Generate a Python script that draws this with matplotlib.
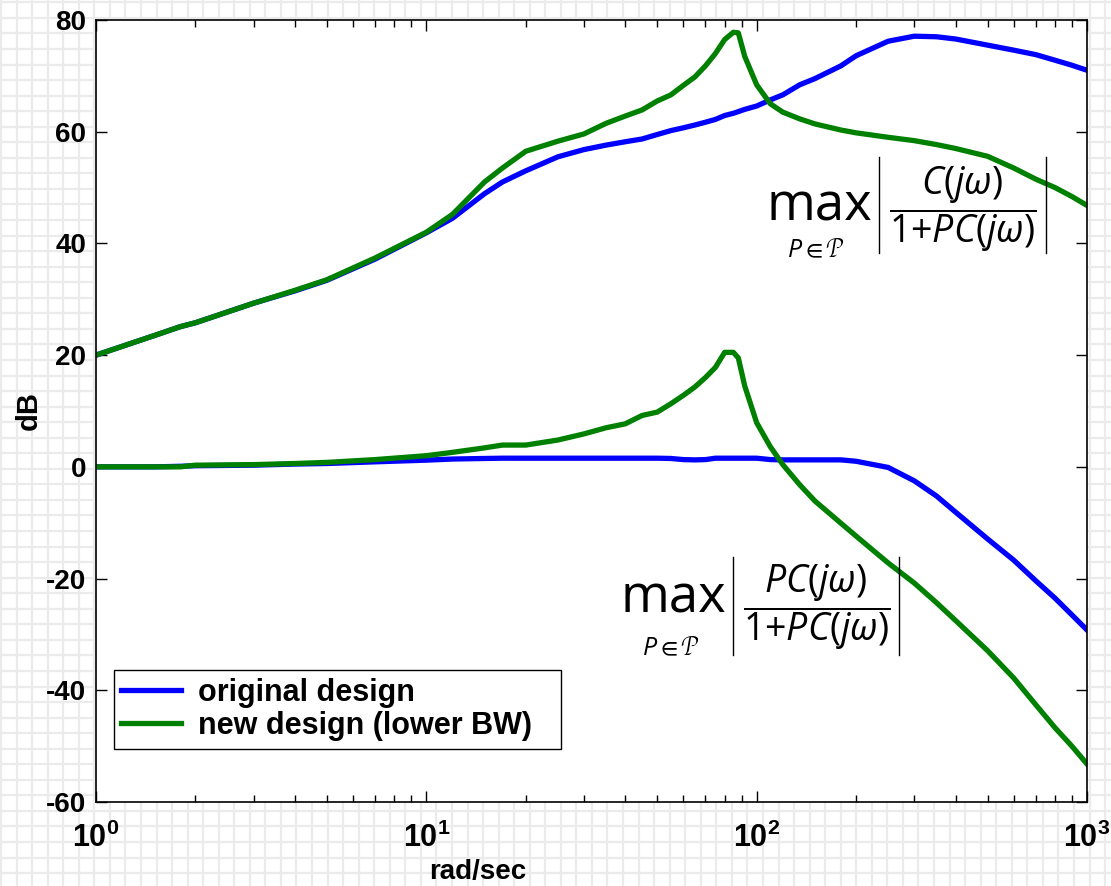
import numpy as np
import matplotlib
matplotlib.use("Agg")
import matplotlib.pyplot as plt
from matplotlib.ticker import LogLocator, FixedLocator, NullFormatter

plt.rcParams['font.family'] = ['Liberation Sans', 'DejaVu Sans']
plt.rcParams['axes.unicode_minus'] = False
plt.rcParams['mathtext.fontset'] = 'custom'
plt.rcParams['mathtext.rm'] = 'Open Sans'
plt.rcParams['mathtext.it'] = 'Open Sans:italic'
plt.rcParams['mathtext.bf'] = 'Liberation Sans:bold'
plt.rcParams['mathtext.fallback'] = 'stixsans'

# frequency grid (rad/sec) shared by all four curves
freq = [1, 1.5, 1.8, 2, 3, 4, 5, 7, 10, 12, 15, 17, 20, 25, 30, 35, 40, 45, 50,
        55, 60, 65, 70, 75, 80, 85, 88, 92, 100, 110, 120, 135, 150, 180, 200,
        250, 300, 350, 400, 500, 600, 700, 800, 900, 1000]

# max |C/(1+PC)| in dB
cs_orig = [20.0, 23.5, 25.1, 25.8, 29.3, 31.5, 33.4, 37.2, 41.9, 44.5, 48.9,
           51.0, 53.0, 55.5, 56.8, 57.6, 58.2, 58.7, 59.5, 60.2, 60.7, 61.2,
           61.7, 62.2, 62.9, 63.3, 63.6, 64.0, 64.6, 65.7, 66.6, 68.4, 69.5,
           71.8, 73.6, 76.2, 77.1, 77.0, 76.6, 75.5, 74.6, 73.8, 72.8, 71.9, 71.0]
cs_new = [20.0, 23.5, 25.1, 25.8, 29.3, 31.6, 33.5, 37.4, 42.0, 45.2, 51.0,
          53.5, 56.5, 58.3, 59.6, 61.5, 62.8, 63.9, 65.5, 66.6, 68.3, 69.8,
          71.8, 74.0, 76.5, 77.8, 77.7, 73.5, 68.4, 65.0, 63.5, 62.3, 61.4,
          60.3, 59.8, 59.0, 58.4, 57.7, 57.0, 55.6, 53.5, 51.5, 50.0, 48.4, 46.8]

# max |PC/(1+PC)| in dB
t_orig = [0.0, 0.0, 0.1, 0.2, 0.3, 0.5, 0.6, 0.9, 1.2, 1.4, 1.5, 1.55, 1.55,
          1.55, 1.55, 1.55, 1.55, 1.55, 1.55, 1.5, 1.3, 1.25, 1.3, 1.55, 1.55,
          1.55, 1.55, 1.55, 1.55, 1.3, 1.25, 1.25, 1.25, 1.25, 1.0, -0.1,
          -2.5, -5.2, -8.1, -12.9, -16.7, -20.4, -23.5, -26.5, -29.2]
t_new = [0.0, 0.0, 0.0, 0.3, 0.4, 0.6, 0.8, 1.3, 2.0, 2.6, 3.4, 3.9, 3.9,
         4.8, 5.9, 7.0, 7.7, 9.2, 9.8, 11.3, 12.8, 14.3, 16.0, 17.8, 20.5,
         20.5, 19.5, 14.5, 7.9, 3.6, 0.4, -3.2, -6.1, -10.1, -12.4, -17.2,
         -20.8, -24.3, -27.5, -32.9, -37.8, -42.6, -46.7, -50.0, -53.2]

W, H = 1111, 886
fig = plt.figure(figsize=(W / 100, H / 100), dpi=100, facecolor='white')

# light graph-paper background
bg = fig.add_axes([0, 0, 1, 1], zorder=-10)
bg.set_xlim(0, W)
bg.set_ylim(H, 0)
bg.axis('off')
step = 15.55
for gx in np.arange(1.0, W, step):
    bg.axvline(gx, color='#ebebeb', lw=1.6)
for gy in np.arange(2.3, H, step):
    bg.axhline(gy, color='#ebebeb', lw=1.6)

ax = fig.add_axes([96 / W, 1 - 802 / H, (1087 - 96) / W, (802 - 20) / H])
ax.set_facecolor('white')

blue = '#0000ff'
green = '#008000'
ax.semilogx(freq, cs_orig, color=blue, lw=3.8, label='original design')
ax.semilogx(freq, cs_new, color=green, lw=3.8, label='new design (lower BW)')
ax.semilogx(freq, t_orig, color=blue, lw=3.8)
ax.semilogx(freq, t_new, color=green, lw=3.8)

ax.set_xlim(1, 1000)
ax.set_ylim(-60, 80)
ax.set_yticks(np.arange(-60, 81, 20))
ax.xaxis.set_major_locator(FixedLocator([1, 10, 100, 1000]))
ax.xaxis.set_minor_locator(LogLocator(base=10, subs=np.arange(2, 10)))
ax.xaxis.set_minor_formatter(NullFormatter())
ax.set_xticklabels([r'$\mathbf{10^{%d}}$' % k for k in range(4)])

ax.tick_params(which='both', direction='in', top=True, right=True,
               labelsize=20, width=1)
ax.tick_params(which='major', length=8)
ax.tick_params(axis='y', which='major', pad=7)
ax.tick_params(axis='x', which='major', pad=15, labelsize=22)
ax.tick_params(which='minor', length=5)
for lab in ax.get_yticklabels():
    lab.set_fontweight('bold')
for s in ax.spines.values():
    s.set_linewidth(1.2)

xl = ax.set_xlabel('rad/sec', fontsize=20, fontweight='bold')
xl.set_verticalalignment('baseline')
ax.xaxis.set_label_coords(0.385, -0.0985)
ax.set_ylabel('dB', fontsize=21, fontweight='bold', labelpad=2)

leg = ax.legend(loc='lower left', bbox_to_anchor=(0.018, 0.068, 0.451, 0.1),
                mode='expand', borderaxespad=0, fancybox=False,
                edgecolor='black', framealpha=1, handlelength=1.95,
                handletextpad=0.55, borderpad=0.25, labelspacing=0.1,
                prop={'size': 22, 'weight': 'bold'})
leg.get_frame().set_linewidth(1.0)


def sens_label(x, y, sub_x, sub_y, bar_x, bar_y, frac_xy, num):
    # big "max" with its constraint set underneath
    ax.text(x, y, 'max', transform=ax.transAxes, fontsize=38,
            family='Open Sans', va='baseline', ha='left')
    ax.text(sub_x, sub_y, r'$P\in\mathcal{P}$', transform=ax.transAxes,
            fontsize=18, va='baseline', ha='left')
    # fraction between thin magnitude bars
    ax.text(frac_xy[0], frac_xy[1],
            r'$\dfrac{%s}{1{+}PC(j\omega)}$' % num,
            transform=ax.transAxes, fontsize=27, va='center', ha='center')
    for bx in bar_x:
        ax.plot([bx, bx], bar_y, color='black', lw=1.0,
                transform=ax.transAxes, clip_on=False)


sens_label(0.677, 0.744, 0.697, 0.697, (0.790, 0.959), (0.702, 0.825),
           (0.874, 0.758), r'C(j\omega)')
sens_label(0.529, 0.242, 0.551, 0.188, (0.643, 0.810), (0.188, 0.313),
           (0.727, 0.249), r'PC(j\omega)')

fig.savefig('out.png', dpi=100, facecolor='white')
